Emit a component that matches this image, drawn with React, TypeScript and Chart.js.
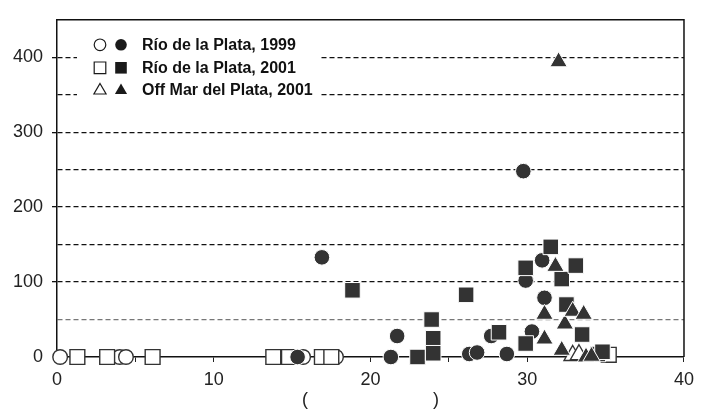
import React, { useEffect, useRef } from "react";
import { Chart, registerables } from "chart.js";

Chart.register(...registerables);

// ---- Data (x = length-like variable, y = count) ----
const openCircleX = [0.2, 4.0, 4.4, 15.7, 17.8];
const openCircleY = [0, 0, 0, 0, 0];

const openSquareX = [1.3, 3.2, 6.1, 13.8, 14.8, 16.9, 17.5, 35.2];
const openSquareY = [0, 0, 0, 0, 0, 0, 0, 3];

const openTriangleX = [32.9, 33.3];
const openTriangleY = [2, 3];

const filledCircleX = [15.35, 16.9, 21.3, 21.7, 26.3, 26.8, 27.7, 28.7, 29.75, 29.9, 30.3, 30.95, 31.1];
const filledCircleY = [0, 133, 0, 28, 4, 6, 28, 4, 248, 102, 34, 129, 79];

const filledSquareX = [18.85, 23.0, 23.9, 24.0, 24.0, 26.1, 28.2, 29.9, 29.9, 31.5, 32.2, 33.1, 32.5, 33.5, 34.5, 34.8];
const filledSquareY = [89, 0, 50, 25, 5, 83, 33, 119, 18, 147, 104, 122, 70, 30, 4, 7];

const filledTriangleX = [32.0, 31.8, 31.1, 31.1, 32.4, 32.9, 33.6, 32.2, 33.75, 34.1];
const filledTriangleY = [394, 121, 57, 24, 44, 61, 57, 9, 0, 1];

const legendLabels = ["Río de la Plata, 1999", "Río de la Plata, 2001", "Off Mar del Plata, 2001"];
const yTickLabels = [0, 100, 200, 300, 400];
const xTickLabels = [0, 10, 20, 30, 40];
const xTitle = "(                         )";

const DARK = "#333333";

function pts(xs: number[], ys: number[]) {
  return xs.map((x, i) => ({ x, y: ys[i] }));
}

function drawMarker(ctx: CanvasRenderingContext2D, style: string, x: number, y: number, r: number, filled: boolean) {
  ctx.beginPath();
  if (style === "circle") {
    ctx.arc(x, y, r, 0, Math.PI * 2);
  } else if (style === "rect") {
    ctx.rect(x - r, y - r, 2 * r, 2 * r);
  } else {
    const h = r * 1.8;
    ctx.moveTo(x, y - h * 0.6);
    ctx.lineTo(x + r * 1.05, y + h * 0.4);
    ctx.lineTo(x - r * 1.05, y + h * 0.4);
    ctx.closePath();
  }
  if (filled) {
    ctx.fillStyle = "#1a1a1a";
    ctx.fill();
  } else {
    ctx.fillStyle = "#fff";
    ctx.fill();
    ctx.strokeStyle = "#1a1a1a";
    ctx.lineWidth = 1.2;
    ctx.stroke();
  }
}

const framePlugin = {
  id: "frame",
  beforeDatasetsDraw(chart: any) {
    const { ctx, chartArea } = chart;
    ctx.save();
    ctx.strokeStyle = "#111";
    ctx.lineWidth = 1.5;
    ctx.beginPath();
    ctx.moveTo(chartArea.left, chartArea.top);
    ctx.lineTo(chartArea.right, chartArea.top);
    ctx.lineTo(chartArea.right, chartArea.bottom);
    ctx.stroke();
    ctx.restore();
  },
};

const legendPlugin = {
  id: "customLegend",
  afterDraw(chart: any) {
    const { ctx, chartArea } = chart;
    const left = chartArea.left;
    const top = chartArea.top;
    ctx.save();
    ctx.fillStyle = "#fff";
    ctx.fillRect(left + 20, top + 14, 244, 64);
    const styles = ["circle", "rect", "triangle"];
    const rowY = [top + 25, top + 48, top + 70];
    ctx.font = "bold 16px 'Liberation Sans', Arial, sans-serif";
    ctx.textBaseline = "middle";
    ctx.textAlign = "left";
    for (let i = 0; i < 3; i++) {
      const y = rowY[i];
      const r = 5.8;
      drawMarker(ctx, styles[i], left + 43, y, r, false);
      drawMarker(ctx, styles[i], left + 64, y, r, true);
      ctx.fillStyle = "#111";
      ctx.fillText(legendLabels[i], left + 85, y + 1);
    }
    ctx.restore();
  },
};

export default function App() {
  const canvasRef = useRef<HTMLCanvasElement | null>(null);

  useEffect(() => {
    const canvas = canvasRef.current;
    if (!canvas) return;
    const filledCommon = { borderColor: "#ffffff", borderWidth: 1, backgroundColor: DARK };
    const openCommon = { borderColor: DARK, borderWidth: 1.4, backgroundColor: "#ffffff" };
    const chart = new Chart(canvas, {
      type: "scatter",
      data: {
        datasets: [
          { label: "tri-f", data: pts(filledTriangleX, filledTriangleY), pointStyle: "triangle", pointRadius: 10, ...filledCommon },
          { label: "sq-f", data: pts(filledSquareX, filledSquareY), pointStyle: "rect", pointRadius: 11, ...filledCommon },
          { label: "ci-f", data: pts(filledCircleX, filledCircleY), pointStyle: "circle", pointRadius: 7.8, ...filledCommon },
          { label: "tri-o", data: pts(openTriangleX, openTriangleY), pointStyle: "triangle", pointRadius: 10, ...openCommon },
          { label: "sq-o", data: pts(openSquareX, openSquareY), pointStyle: "rect", pointRadius: 10.5, ...openCommon },
          { label: "ci-o", data: pts(openCircleX, openCircleY), pointStyle: "circle", pointRadius: 7.3, ...openCommon },
        ] as any,
      },
      options: {
        responsive: false,
        animation: false,
        devicePixelRatio: 1,
        layout: { padding: { top: 8, right: 16, left: 0, bottom: 0 } },
        plugins: { legend: { display: false }, tooltip: { enabled: false } },
        clip: false as any,
        scales: {
          x: {
            type: "linear",
            min: 0,
            max: 40,
            ticks: {
              stepSize: 5,
              color: "#222",
              padding: 7,
              font: { size: 18, family: "'Liberation Sans', Arial, sans-serif" },
              callback: (v: any) => (xTickLabels.includes(Number(v)) ? String(v) : ""),
              maxRotation: 0,
            },
            grid: {
              drawOnChartArea: false,
              drawTicks: true,
              tickLength: 5,
              tickColor: "#222",
              tickWidth: 1,
            },
            border: { display: true, color: "#111", width: 1.5 },
            title: {
              display: true,
              text: xTitle,
              color: "#222",
              font: { size: 18, family: "'Liberation Sans', Arial, sans-serif" },
              padding: { top: 0, bottom: 3 },
            },
            afterFit: (scale: any) => {
              scale.height = 57;
            },
          },
          y: {
            type: "linear",
            min: 0,
            max: 450,
            ticks: {
              stepSize: 50,
              color: "#222",
              padding: 9,
              font: { size: 18, family: "'Liberation Sans', Arial, sans-serif" },
              callback: (v: any) => (yTickLabels.includes(Number(v)) ? String(v) : ""),
            },
            grid: {
              drawTicks: true,
              tickLength: 5,
              color: (c: any) => {
                const v = c.tick ? c.tick.value : 0;
                if (v === 0 || v === 450) return "rgba(0,0,0,0)";
                if (v === 50) return "#777";
                return "#111";
              },
              tickColor: (c: any) => {
                const v = c.tick ? c.tick.value : 0;
                return v > 0 && v % 100 === 0 ? "#111" : "rgba(0,0,0,0)";
              },
              lineWidth: 1.3,
            },
            border: { display: true, color: "#111", width: 1.5, dash: [5, 3] },
            afterFit: (scale: any) => {
              scale.width = 57;
            },
          },
        },
      } as any,
      plugins: [framePlugin, legendPlugin],
    });
    return () => chart.destroy();
  }, []);

  return (
    <div style={{ position: "fixed", left: 0, top: 0, width: 701, height: 414, background: "#fff" }}>
      <canvas ref={canvasRef} width={701} height={414} style={{ width: 701, height: 414, display: "block" }} />
    </div>
  );
}
